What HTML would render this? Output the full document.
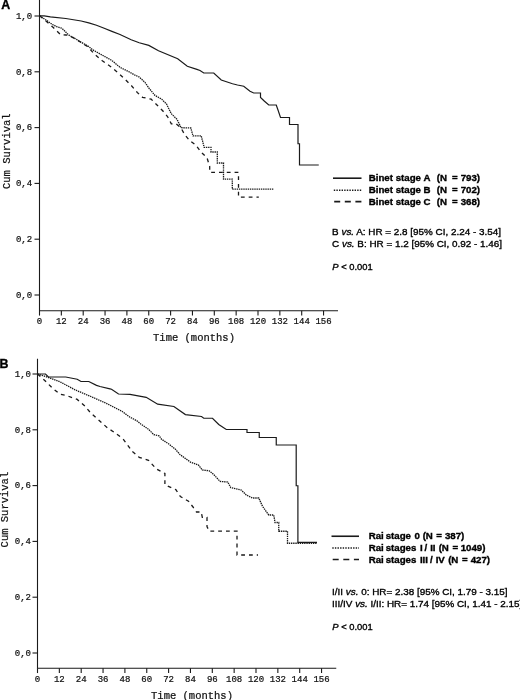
<!DOCTYPE html>
<html><head><meta charset="utf-8"><title>Survival curves</title>
<style>
html,body{margin:0;padding:0;background:#fff;}
body{width:520px;height:700px;overflow:hidden;}
svg{display:block;}
.m{font-family:"Liberation Mono","DejaVu Sans Mono",monospace;fill:#111;stroke:#111;stroke-width:0.22;}
.s{font-family:"Liberation Sans","DejaVu Sans",sans-serif;fill:#000;stroke:#000;stroke-width:0.35;}
.ax{stroke:#1a1a1a;stroke-width:1.1;fill:none;}
.c{stroke:#1a1a1a;fill:none;stroke-linejoin:miter;}
</style></head><body>
<svg width="520" height="700" viewBox="0 0 520 700">
<rect width="520" height="700" fill="#fff"/>

<path class="ax" d="M39.5,0 V310.8 H338"/>
<path class="ax" d="M39.50,310.8 v4.8"/>
<text class="m" x="39.50" y="324.3" font-size="9" text-anchor="middle">0</text>
<path class="ax" d="M61.35,310.8 v4.8"/>
<text class="m" x="61.35" y="324.3" font-size="9" text-anchor="middle">12</text>
<path class="ax" d="M83.20,310.8 v4.8"/>
<text class="m" x="83.20" y="324.3" font-size="9" text-anchor="middle">24</text>
<path class="ax" d="M105.05,310.8 v4.8"/>
<text class="m" x="105.05" y="324.3" font-size="9" text-anchor="middle">36</text>
<path class="ax" d="M126.90,310.8 v4.8"/>
<text class="m" x="126.90" y="324.3" font-size="9" text-anchor="middle">48</text>
<path class="ax" d="M148.75,310.8 v4.8"/>
<text class="m" x="148.75" y="324.3" font-size="9" text-anchor="middle">60</text>
<path class="ax" d="M170.60,310.8 v4.8"/>
<text class="m" x="170.60" y="324.3" font-size="9" text-anchor="middle">72</text>
<path class="ax" d="M192.45,310.8 v4.8"/>
<text class="m" x="192.45" y="324.3" font-size="9" text-anchor="middle">84</text>
<path class="ax" d="M214.30,310.8 v4.8"/>
<text class="m" x="214.30" y="324.3" font-size="9" text-anchor="middle">96</text>
<path class="ax" d="M236.15,310.8 v4.8"/>
<text class="m" x="236.15" y="324.3" font-size="9" text-anchor="middle">108</text>
<path class="ax" d="M258.00,310.8 v4.8"/>
<text class="m" x="258.00" y="324.3" font-size="9" text-anchor="middle">120</text>
<path class="ax" d="M279.85,310.8 v4.8"/>
<text class="m" x="279.85" y="324.3" font-size="9" text-anchor="middle">132</text>
<path class="ax" d="M301.70,310.8 v4.8"/>
<text class="m" x="301.70" y="324.3" font-size="9" text-anchor="middle">144</text>
<path class="ax" d="M323.55,310.8 v4.8"/>
<text class="m" x="323.55" y="324.3" font-size="9" text-anchor="middle">156</text>
<path class="ax" d="M34.5,16.00 h5"/>
<text class="m" x="32.1" y="18.70" font-size="9" text-anchor="end">1,0</text>
<path class="ax" d="M34.5,71.80 h5"/>
<text class="m" x="32.1" y="74.50" font-size="9" text-anchor="end">0,8</text>
<path class="ax" d="M34.5,127.60 h5"/>
<text class="m" x="32.1" y="130.30" font-size="9" text-anchor="end">0,6</text>
<path class="ax" d="M34.5,183.40 h5"/>
<text class="m" x="32.1" y="186.10" font-size="9" text-anchor="end">0,4</text>
<path class="ax" d="M34.5,239.20 h5"/>
<text class="m" x="32.1" y="241.90" font-size="9" text-anchor="end">0,2</text>
<path class="ax" d="M34.5,295.00 h5"/>
<text class="m" x="32.1" y="297.70" font-size="9" text-anchor="end">0,0</text>
<text class="m" font-size="10.5" text-anchor="middle" transform="translate(9.7,151.2) rotate(-90)">Cum Survival</text>
<text class="m" font-size="10.5" text-anchor="middle" x="194.0" y="341.0">Time (months)</text>
<text class="s" font-size="12.4" font-weight="bold" stroke="#000" stroke-width="1.1" x="1.2" y="9.2">A</text>
<path class="c" stroke-width="1.2" d="M39.60,15.80 L44.20,15.90 L50.40,16.80 L65.80,18.50 L81.20,21.00 L88.80,22.90 L96.50,25.20 L104.20,28.30 L111.90,31.40 L120.00,34.50 L131.20,39.80 L139.20,42.80 L148.80,45.40 L158.50,50.80 L177.70,58.80 L187.30,66.20 L196.90,69.40 L200.00,70.50 L203.75,73.00 L213.75,73.00 L221.25,80.00 L232.50,83.75 L237.50,85.00 L243.75,86.25 L250.00,91.25 L253.75,93.00 L260.50,93.00 L260.50,97.50 L264.50,101.25 L268.75,105.00 L276.25,105.00 L278.00,110.00 L280.50,117.50 L289.50,117.50 L289.50,124.50 L298.00,124.50 L298.00,143.75 L299.50,143.75 L299.50,165.00 L318.75,165.00"/>
<path class="c" stroke-width="1.3" stroke-dasharray="1.4 0.8" d="M39.60,15.80 L47.60,21.10 L52.40,24.50 L57.20,26.90 L62.00,28.30 L64.90,31.20 L68.80,35.10 L76.50,39.40 L81.30,42.30 L88.00,46.10 L92.70,49.80 L102.30,55.20 L111.90,60.50 L120.00,67.30 L129.60,72.10 L135.00,75.20 L139.20,77.00 L145.00,82.50 L149.20,88.50 L155.00,95.40 L161.70,99.20 L166.50,104.00 L171.30,113.70 L177.10,119.40 L181.00,127.70 L190.80,128.00 L193.00,135.80 L201.20,135.80 L204.20,147.40 L211.00,147.40 L211.00,152.00 L217.30,152.00 L217.30,163.00 L223.50,163.00 L223.50,179.20 L232.30,179.20 L232.30,189.20 L273.80,189.20"/>
<path class="c" stroke-width="1.3" stroke-dasharray="3.8 4" d="M39.60,15.80 L46.50,21.50 L53.30,27.60 L60.60,34.60 L66.00,35.00 L68.80,35.40 L76.50,39.60 L87.50,46.50 L93.70,53.30 L102.30,60.80 L111.90,67.50 L119.60,74.20 L125.80,80.00 L131.50,85.80 L137.30,92.50 L142.50,97.30 L151.20,99.20 L157.00,105.00 L162.70,110.80 L167.50,116.50 L171.30,123.80 L176.00,123.80 L181.00,128.00 L184.80,134.80 L189.60,140.50 L195.80,145.00 L201.00,152.00 L207.00,157.80 L209.70,166.50 L209.70,172.30 L238.50,172.30 L238.50,197.20 L258.80,197.20"/>
<path class="ax" d="M37.5,358.75 V668.25 H336.25"/>
<path class="ax" d="M37.50,668.25 v4.8"/>
<text class="m" x="37.50" y="681.5" font-size="9" text-anchor="middle">0</text>
<path class="ax" d="M59.35,668.25 v4.8"/>
<text class="m" x="59.35" y="681.5" font-size="9" text-anchor="middle">12</text>
<path class="ax" d="M81.20,668.25 v4.8"/>
<text class="m" x="81.20" y="681.5" font-size="9" text-anchor="middle">24</text>
<path class="ax" d="M103.05,668.25 v4.8"/>
<text class="m" x="103.05" y="681.5" font-size="9" text-anchor="middle">36</text>
<path class="ax" d="M124.90,668.25 v4.8"/>
<text class="m" x="124.90" y="681.5" font-size="9" text-anchor="middle">48</text>
<path class="ax" d="M146.75,668.25 v4.8"/>
<text class="m" x="146.75" y="681.5" font-size="9" text-anchor="middle">60</text>
<path class="ax" d="M168.60,668.25 v4.8"/>
<text class="m" x="168.60" y="681.5" font-size="9" text-anchor="middle">72</text>
<path class="ax" d="M190.45,668.25 v4.8"/>
<text class="m" x="190.45" y="681.5" font-size="9" text-anchor="middle">84</text>
<path class="ax" d="M212.30,668.25 v4.8"/>
<text class="m" x="212.30" y="681.5" font-size="9" text-anchor="middle">96</text>
<path class="ax" d="M234.15,668.25 v4.8"/>
<text class="m" x="234.15" y="681.5" font-size="9" text-anchor="middle">108</text>
<path class="ax" d="M256.00,668.25 v4.8"/>
<text class="m" x="256.00" y="681.5" font-size="9" text-anchor="middle">120</text>
<path class="ax" d="M277.85,668.25 v4.8"/>
<text class="m" x="277.85" y="681.5" font-size="9" text-anchor="middle">132</text>
<path class="ax" d="M299.70,668.25 v4.8"/>
<text class="m" x="299.70" y="681.5" font-size="9" text-anchor="middle">144</text>
<path class="ax" d="M321.55,668.25 v4.8"/>
<text class="m" x="321.55" y="681.5" font-size="9" text-anchor="middle">156</text>
<path class="ax" d="M32.5,374.00 h5"/>
<text class="m" x="31.0" y="376.70" font-size="9" text-anchor="end">1,0</text>
<path class="ax" d="M32.5,429.80 h5"/>
<text class="m" x="31.0" y="432.50" font-size="9" text-anchor="end">0,8</text>
<path class="ax" d="M32.5,485.60 h5"/>
<text class="m" x="31.0" y="488.30" font-size="9" text-anchor="end">0,6</text>
<path class="ax" d="M32.5,541.40 h5"/>
<text class="m" x="31.0" y="544.10" font-size="9" text-anchor="end">0,4</text>
<path class="ax" d="M32.5,597.20 h5"/>
<text class="m" x="31.0" y="599.90" font-size="9" text-anchor="end">0,2</text>
<path class="ax" d="M32.5,653.00 h5"/>
<text class="m" x="31.0" y="655.70" font-size="9" text-anchor="end">0,0</text>
<text class="m" font-size="10.5" text-anchor="middle" transform="translate(8.2,509.6) rotate(-90)">Cum Survival</text>
<text class="m" font-size="10.5" text-anchor="middle" x="192.0" y="699.3">Time (months)</text>
<text class="s" font-size="12.4" font-weight="bold" stroke="#000" stroke-width="1.1" x="-0.6" y="368.2">B</text>
<path class="c" stroke-width="1.2" d="M37.50,374.00 L45.50,374.00 L48.40,377.00 L65.70,377.00 L77.20,379.20 L81.00,381.50 L88.80,381.50 L96.50,385.40 L100.00,386.50 L110.00,388.80 L111.50,389.20 L118.50,394.00 L130.00,394.30 L146.20,397.30 L157.70,404.20 L173.90,406.50 L185.40,414.60 L201.50,416.50 L203.75,418.25 L212.50,418.25 L218.75,424.50 L226.25,429.50 L247.00,429.50 L247.00,432.50 L259.25,432.50 L259.25,437.50 L276.25,437.50 L276.25,445.00 L296.20,445.00 L296.20,485.75 L297.90,485.75 L297.90,542.30 L317.00,542.30"/>
<path class="c" stroke-width="1.3" stroke-dasharray="1.4 0.8" d="M37.50,374.00 L45.00,376.30 L52.20,378.80 L60.00,381.80 L75.40,390.00 L90.80,396.50 L106.20,403.30 L121.50,411.00 L130.00,417.20 L136.90,420.80 L140.80,424.00 L148.50,429.30 L153.80,434.60 L159.20,435.80 L161.50,439.20 L168.50,443.80 L175.40,449.20 L180.00,454.60 L190.80,462.30 L198.50,465.10 L202.30,470.00 L209.20,470.80 L213.80,474.60 L220.00,481.40 L227.70,482.00 L230.80,487.60 L241.25,490.00 L246.25,495.00 L252.50,498.00 L258.75,498.00 L262.50,506.25 L268.75,515.00 L273.75,515.00 L275.00,522.50 L278.75,522.50 L278.75,531.25 L287.50,531.25 L287.50,543.25 L317.00,543.25"/>
<path class="c" stroke-width="1.3" stroke-dasharray="3.8 4" d="M37.50,374.00 L44.50,380.20 L52.20,387.90 L60.00,394.20 L66.70,395.60 L77.20,399.40 L85.00,406.20 L90.70,412.90 L100.30,421.50 L108.00,428.30 L113.80,432.00 L123.00,438.80 L132.30,451.50 L139.20,457.30 L148.50,460.30 L156.20,468.80 L164.90,473.50 L164.90,485.00 L175.80,489.60 L180.40,496.50 L188.50,501.20 L193.00,507.00 L196.50,512.00 L201.20,512.00 L202.30,517.30 L207.00,517.30 L207.00,526.50 L209.20,531.20 L237.00,531.20 L237.00,555.00 L258.00,555.00"/>
<path class="c" stroke-width="1.6" d="M333,178.2 H361.5"/>
<text class="s" font-size="9.7" font-weight="bold" stroke-width="0.4" transform="translate(369.2,181.2) scale(1,1.0)"><tspan x="-0.50">Binet</tspan> <tspan x="26.45">stage</tspan> <tspan x="54.20">A</tspan> <tspan x="67.50">(N</tspan> <tspan x="82.90">=</tspan> <tspan x="91.50">793)</tspan></text>
<path class="c" stroke-width="1.6" stroke-dasharray="0 0.8 1.4 0.4" d="M333,190.3 H361.5"/>
<text class="s" font-size="9.7" font-weight="bold" stroke-width="0.4" transform="translate(369.2,193.3) scale(1,1.0)"><tspan x="-0.50">Binet</tspan> <tspan x="26.45">stage</tspan> <tspan x="54.20">B</tspan> <tspan x="67.50">(N</tspan> <tspan x="82.90">=</tspan> <tspan x="91.50">702)</tspan></text>
<path class="c" stroke-width="1.6" stroke-dasharray="0 1.2 6 3.4" d="M333,201.6 H361.5"/>
<text class="s" font-size="9.7" font-weight="bold" stroke-width="0.4" transform="translate(369.2,204.6) scale(1,1.0)"><tspan x="-0.50">Binet</tspan> <tspan x="26.45">stage</tspan> <tspan x="54.20">C</tspan> <tspan x="67.50">(N</tspan> <tspan x="82.90">=</tspan> <tspan x="91.50">368)</tspan></text>
<text class="s" font-size="9.9" transform="translate(332.1,235)">B <tspan font-style="italic">vs.</tspan> A: HR = 2.8 [95% CI, 2.24 - 3.54]</text>
<text class="s" font-size="9.9" transform="translate(332.1,247)">C <tspan font-style="italic">vs.</tspan> B: HR = 1.2 [95% CI, 0.92 - 1.46]</text>
<text class="s" font-size="9.4" transform="translate(332.3,270)"><tspan font-style="italic">P</tspan> &lt; 0.001</text>
<path class="c" stroke-width="1.6" d="M331.5,536.25 H359"/>
<text class="s" font-size="9.7" font-weight="bold" stroke-width="0.4" transform="translate(369.2,539.2) scale(1,1.0)"><tspan x="-0.55">Rai</tspan> <tspan x="16.45">stage</tspan> <tspan x="45.20">0</tspan> <tspan x="53.45">(N</tspan> <tspan x="66.95">=</tspan> <tspan x="75.70">387)</tspan></text>
<path class="c" stroke-width="1.6" stroke-dasharray="0 0.8 1.4 0.4" d="M331.5,548 H359"/>
<text class="s" font-size="9.7" font-weight="bold" stroke-width="0.4" transform="translate(369.2,551.0) scale(1,1.0)"><tspan x="-0.55">Rai</tspan> <tspan x="16.45">stages</tspan> <tspan x="50.70">I</tspan> <tspan x="55.20">/</tspan> <tspan x="60.95">II</tspan> <tspan x="69.45">(N</tspan> <tspan x="83.20">=</tspan> <tspan x="91.45">1049)</tspan></text>
<path class="c" stroke-width="1.6" stroke-dasharray="0 1.2 6 3.4" d="M331.5,559.5 H359"/>
<text class="s" font-size="9.7" font-weight="bold" stroke-width="0.4" transform="translate(369.2,562.5) scale(1,1.0)"><tspan x="-0.55">Rai</tspan> <tspan x="16.45">stages</tspan> <tspan x="50.70">III</tspan> <tspan x="60.70">/</tspan> <tspan x="66.45">IV</tspan> <tspan x="78.95">(N</tspan> <tspan x="92.70">=</tspan> <tspan x="101.45">427)</tspan></text>
<text class="s" font-size="9.9" transform="translate(332.1,595)">I/II <tspan font-style="italic">vs.</tspan> 0: HR= 2.38 [95% CI, 1.79 - 3.15]</text>
<text class="s" font-size="9.9" transform="translate(332.1,607)">III/IV <tspan font-style="italic">vs.</tspan> I/II: HR= 1.74 [95% CI, 1.41 - 2.15]</text>
<text class="s" font-size="9.4" transform="translate(332.3,630)"><tspan font-style="italic">P</tspan> &lt; 0.001</text>
</svg></body></html>
